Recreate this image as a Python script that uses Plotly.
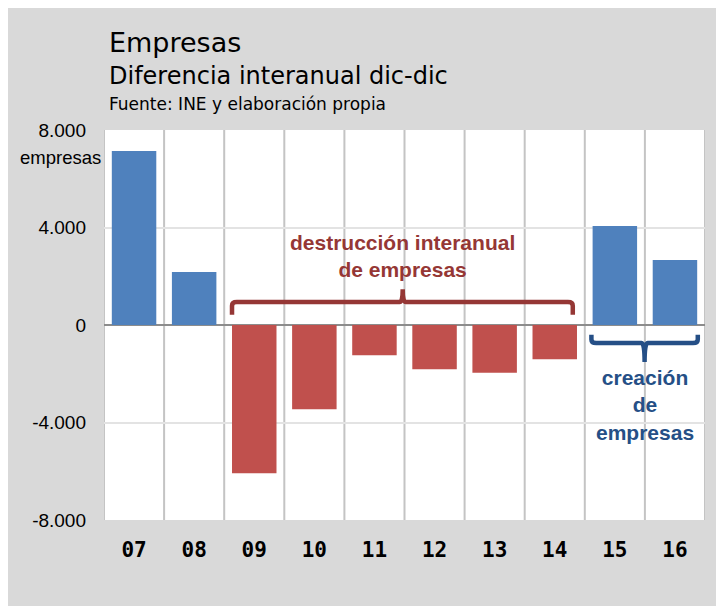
import plotly.graph_objects as go

years = ["07", "08", "09", "10", "11", "12", "13", "14", "15", "16"]
values = [7140, 2170, -6080, -3460, -1240, -1820, -1960, -1400, 4060, 2670]
ytick_vals = [8000, 4000, 0, -4000, -8000]
ytick_text = ["8.000", "4.000", "0", "-4.000", "-8.000"]

BLUE = "#4f81bd"
RED = "#c0504d"
DRED = "#953735"
DBLUE = "#254f86"

colors = [BLUE if v >= 0 else RED for v in values]

W, H = 708, 598
L, R, T, B = 96, 11, 122, 86
plot_h = H - T - B

def py(ypix):
    return 1 - (ypix - T) / plot_h

def px(xpix):
    return (xpix - L) / (W - L - R)

fig = go.Figure()
fig.add_trace(go.Bar(
    x=list(range(len(years))), y=values,
    marker=dict(color=colors, line=dict(width=0)),
    width=0.74,
    hoverinfo="skip",
))

fig.update_layout(
    width=W, height=H,
    margin=dict(l=L, r=R, t=T, b=B),
    paper_bgcolor="#d9d9d9",
    plot_bgcolor="white",
    showlegend=False,
    font=dict(family="Liberation Sans, Arial, sans-serif", color="black"),
)
fig.update_xaxes(
    tickmode="array", tickvals=list(range(len(years))), ticktext=years,
    range=[-0.5, len(years) - 0.5],
    showgrid=False, zeroline=False, showline=False, ticks="",
    tickfont=dict(family="DejaVu Sans Mono", size=21, color="black", weight="bold"),
    ticklabelstandoff=15,
)
fig.update_yaxes(
    range=[-8000, 8000], tickmode="array", tickvals=ytick_vals, ticktext=ytick_text,
    showgrid=True, gridcolor="#e3e3e3", gridwidth=2,
    zeroline=True, zerolinecolor="#8c8c8c", zerolinewidth=2,
    showline=False, ticks="",
    tickfont=dict(size=19, color="black"),
    ticklabelstandoff=17,
)

shapes = []
for i in range(len(years) + 1):
    shapes.append(dict(type="line", xref="x", yref="paper", x0=i - 0.5, x1=i - 0.5,
                       y0=0, y1=1, line=dict(color="#c4c4c4", width=2), layer="below"))

rb = dict(x0=1.63, x1=7.30, xc=4.47, yb=944, ye=420, yt=1470)
shapes.append(dict(type="path", xref="x", yref="y",
                   path=f"M {rb['x0']},{rb['ye']} L {rb['x0']},{rb['yb']-150} Q {rb['x0']},{rb['yb']} {rb['x0']+0.08},{rb['yb']} "
                        f"L {rb['xc']-0.05},{rb['yb']} Q {rb['xc']},{rb['yb']} {rb['xc']},{rb['yt']} "
                        f"Q {rb['xc']},{rb['yb']} {rb['xc']+0.05},{rb['yb']} "
                        f"L {rb['x1']-0.08},{rb['yb']} Q {rb['x1']},{rb['yb']} {rb['x1']},{rb['yb']-150} L {rb['x1']},{rb['ye']}",
                   line=dict(color=DRED, width=4.5)))
bb = dict(x0=7.61, x1=9.38, xc=8.495, yb=-740, ye=-400, yt=-1520)
shapes.append(dict(type="path", xref="x", yref="y",
                   path=f"M {bb['x0']},{bb['ye']} L {bb['x0']},{bb['yb']+150} Q {bb['x0']},{bb['yb']} {bb['x0']+0.08},{bb['yb']} "
                        f"L {bb['xc']-0.05},{bb['yb']} Q {bb['xc']},{bb['yb']} {bb['xc']},{bb['yt']} "
                        f"Q {bb['xc']},{bb['yb']} {bb['xc']+0.05},{bb['yb']} "
                        f"L {bb['x1']-0.08},{bb['yb']} Q {bb['x1']},{bb['yb']} {bb['x1']},{bb['yb']+150} L {bb['x1']},{bb['ye']}",
                   line=dict(color=DBLUE, width=4.5)))
fig.update_layout(shapes=shapes)

ann = []
ann.append(dict(text="Empresas", xref="paper", yref="paper", x=px(99), y=py(35),
                xanchor="left", yanchor="middle", showarrow=False,
                font=dict(family="DejaVu Sans", size=27, color="black")))
ann.append(dict(text="Diferencia interanual dic-dic", xref="paper", yref="paper", x=px(99), y=py(68),
                xanchor="left", yanchor="middle", showarrow=False,
                font=dict(family="DejaVu Sans", size=24, color="black")))
ann.append(dict(text="Fuente: INE y elaboración propia", xref="paper", yref="paper", x=px(99), y=py(96),
                xanchor="left", yanchor="middle", showarrow=False,
                font=dict(family="DejaVu Sans", size=17, color="black")))
ann.append(dict(text="empresas", xref="paper", yref="paper", x=px(95), y=py(149),
                xanchor="right", yanchor="middle", showarrow=False,
                font=dict(size=18.5, color="black")))
ann.append(dict(text="<b>destrucción interanual<br>de empresas</b>", xref="x", yref="y",
                x=4.47, y=2830, xanchor="center", yanchor="middle", showarrow=False,
                font=dict(size=21, color=DRED)))
ann.append(dict(text="<b>creación<br>de<br>empresas</b>", xref="x", yref="y",
                x=8.495, y=-3300, xanchor="center", yanchor="middle", showarrow=False,
                font=dict(size=21, color=DBLUE)))
fig.update_layout(annotations=ann)

fig.write_html("out.html")
